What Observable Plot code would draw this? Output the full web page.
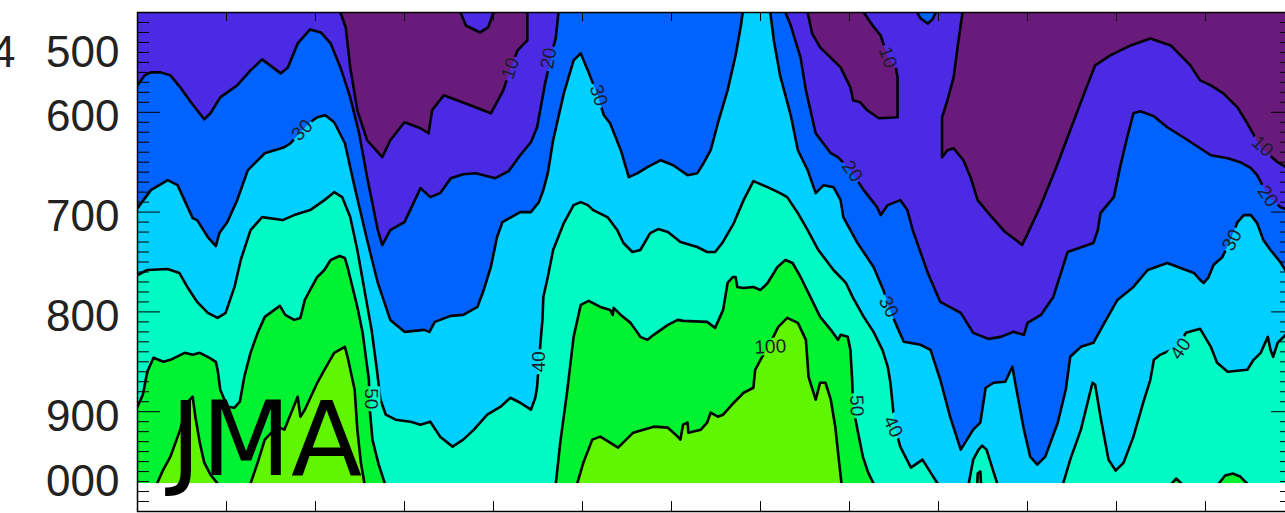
<!DOCTYPE html>
<html><head><meta charset="utf-8">
<script src="https://cdn.jsdelivr.net/npm/d3@7"></script>
<script src="https://cdn.jsdelivr.net/npm/@observablehq/plot@0.6"></script>
<style>html,body{margin:0;padding:0;overflow:hidden;background:#fff}</style>
</head><body><div id="chart"></div>
<script>
// ---- data (x: time-axis units, p: pressure hPa) ----
const levels = [10, 20, 30, 40, 50, 100];
const bandColors = ["#691b7b", "#4a2ae2", "#0062ff", "#00d0ff", "#00fac4", "#00f230", "#60f600"];
const pressureTicks = [500, 600, 700, 800, 900, 1000];
const pressureTickLabels = ["500", "600", "700", "800", "900", "000"];
const xTicks = [0,1,2,3,4,5,6,7,8,9,10,11,12,13];
const xDomain = [0, 13];
const yDomain = [500, 1000];
const surfaceP = 972;
const panelName = "JMA";

// regions where value < 10
const lt10 = [
 [[2.28,480],[2.28,500],[2.34,515],[2.39,555],[2.47,598],[2.58,628],[2.75,645],[2.84,628],[3.00,610],[3.18,616],[3.27,621],[3.31,598],[3.44,583],[3.71,592],[3.97,601],[4.11,578],[4.19,556],[4.27,538],[4.38,528],[4.38,500],[4.39,480],[4.00,480],[4.00,500],[3.94,515],[3.85,520],[3.69,513],[3.63,500],[3.63,480]],
 [[7.52,480],[7.53,500],[7.58,521],[7.67,535],[7.82,548],[7.90,555],[8.01,575],[8.04,588],[8.12,590],[8.20,598],[8.33,606],[8.54,605],[8.54,565],[8.52,555],[8.43,545],[8.35,523],[8.26,513],[8.16,500],[8.15,480]],
 [[9.22,480],[9.27,500],[9.22,531],[9.17,565],[9.10,588],[9.04,605],[9.04,645],[9.10,638],[9.17,636],[9.28,648],[9.36,665],[9.44,688],[9.58,703],[9.75,720],[9.87,728],[9.94,733],[10.01,720],[10.15,693],[10.31,658],[10.48,618],[10.65,578],[10.76,553],[10.93,543],[11.16,533],[11.38,526],[11.61,533],[11.83,553],[11.94,568],[12.06,573],[12.20,581],[12.36,595],[12.47,611],[12.62,635],[12.81,650],[13.00,660],[13.2,660],[13.2,480]]
];
// regions where value < 20
const lt20 = [
 [[-0.2,480],[-0.2,573],[0,573],[0.08,563],[0.15,560],[0.26,560],[0.37,563],[0.48,575],[0.60,590],[0.75,607],[0.82,601],[0.93,585],[1.12,573],[1.27,558],[1.40,547],[1.49,553],[1.61,561],[1.69,555],[1.80,531],[1.94,517],[2.06,520],[2.17,531],[2.28,555],[2.39,585],[2.49,621],[2.58,665],[2.70,718],[2.75,733],[2.84,718],[3.00,710],[3.18,676],[3.29,685],[3.40,681],[3.52,666],[3.66,662],[3.80,661],[4.02,666],[4.17,659],[4.30,643],[4.42,630],[4.49,615],[4.58,571],[4.65,543],[4.70,525],[4.73,500],[4.73,480]],
 [[7.27,480],[7.28,500],[7.34,513],[7.39,528],[7.45,545],[7.51,578],[7.62,621],[7.79,641],[7.87,645],[8.01,658],[8.16,678],[8.31,695],[8.35,703],[8.43,693],[8.57,688],[8.65,698],[8.71,718],[8.88,761],[9.02,790],[9.25,801],[9.39,821],[9.56,827],[9.70,825],[9.84,820],[9.96,823],[10.00,811],[10.15,803],[10.29,785],[10.45,740],[10.74,731],[10.79,718],[10.82,701],[10.97,685],[11.04,655],[11.12,625],[11.19,601],[11.27,599],[11.42,604],[11.57,615],[11.75,625],[11.94,636],[12.06,643],[12.25,646],[12.39,650],[12.51,656],[12.58,663],[12.70,683],[12.84,695],[13.00,700],[13.2,700],[13.2,480],[8.98,480],[8.97,500],[8.93,507],[8.88,511],[8.80,506],[8.76,500],[8.75,480]]
];
// regions where value < 30
const lt30 = [
 [[-0.2,480],[-0.2,696],[0,696],[0.15,678],[0.34,668],[0.45,673],[0.62,706],[0.67,708],[0.79,725],[0.88,734],[0.92,721],[1.01,710],[1.12,688],[1.24,658],[1.43,641],[1.65,635],[1.72,631],[1.83,620],[1.94,610],[2.02,605],[2.11,603],[2.21,610],[2.33,631],[2.44,675],[2.58,728],[2.70,771],[2.84,808],[3.00,820],[3.22,818],[3.28,820],[3.34,810],[3.52,804],[3.66,803],[3.82,795],[3.89,778],[3.97,755],[4.04,725],[4.10,710],[4.30,700],[4.42,700],[4.51,690],[4.56,678],[4.61,661],[4.67,628],[4.79,581],[4.90,548],[4.98,541],[5.06,558],[5.17,583],[5.24,603],[5.31,611],[5.43,638],[5.52,665],[5.62,661],[5.73,655],[5.88,648],[6.02,653],[6.18,663],[6.29,661],[6.36,651],[6.44,638],[6.53,608],[6.63,578],[6.72,543],[6.78,513],[6.80,500],[6.80,480]],
 [[7.11,480],[7.11,500],[7.15,528],[7.22,563],[7.34,603],[7.42,638],[7.53,658],[7.62,681],[7.71,673],[7.82,675],[7.90,688],[7.93,705],[8.09,731],[8.27,755],[8.38,778],[8.44,795],[8.54,816],[8.61,830],[8.80,833],[8.91,838],[9.02,868],[9.13,905],[9.25,938],[9.39,918],[9.47,911],[9.53,876],[9.62,871],[9.75,870],[9.83,855],[9.87,875],[9.96,918],[10.03,945],[10.11,953],[10.20,945],[10.34,911],[10.43,878],[10.48,845],[10.60,835],[10.74,831],[10.82,818],[11.01,788],[11.19,775],[11.35,758],[11.57,751],[11.87,761],[11.94,768],[11.98,771],[12.03,766],[12.09,753],[12.19,745],[12.28,728],[12.36,710],[12.43,703],[12.51,703],[12.58,711],[12.65,728],[12.73,738],[12.84,750],[13.00,773],[13.2,773],[13.2,480]]
];
// regions where value < 40
const lt40 = [
 [[-0.2,480],[-0.2,763],[0,763],[0.11,758],[0.34,757],[0.47,761],[0.56,775],[0.67,790],[0.79,801],[0.90,806],[0.99,801],[1.09,775],[1.16,748],[1.27,718],[1.40,705],[1.63,708],[1.76,703],[1.94,698],[2.10,688],[2.21,680],[2.30,685],[2.39,705],[2.47,738],[2.55,778],[2.63,818],[2.69,858],[2.73,888],[2.79,903],[2.90,908],[3.07,910],[3.18,913],[3.29,910],[3.40,925],[3.54,935],[3.66,928],[3.78,918],[3.93,903],[4.08,895],[4.19,886],[4.30,891],[4.42,898],[4.47,886],[4.49,875],[4.51,851],[4.53,828],[4.55,808],[4.56,785],[4.61,765],[4.67,738],[4.79,711],[4.90,693],[4.98,690],[5.06,693],[5.12,698],[5.28,705],[5.39,718],[5.46,731],[5.56,740],[5.65,738],[5.76,721],[5.85,717],[5.96,720],[6.10,730],[6.29,735],[6.40,740],[6.49,740],[6.57,731],[6.70,711],[6.81,688],[6.92,669],[7.08,675],[7.22,681],[7.30,685],[7.42,701],[7.53,718],[7.65,738],[7.82,758],[7.96,771],[8.04,786],[8.16,805],[8.27,820],[8.37,838],[8.43,855],[8.46,871],[8.49,898],[8.51,915],[8.57,935],[8.69,956],[8.82,948],[8.94,965],[8.99,972],[9.00,990],[9.33,990],[9.34,972],[9.39,948],[9.45,938],[9.49,934],[9.54,938],[9.61,958],[9.66,972],[9.67,990],[10.39,990],[10.40,972],[10.48,948],[10.60,918],[10.73,871],[10.76,873],[10.82,905],[10.91,948],[10.99,959],[11.08,951],[11.19,925],[11.30,891],[11.38,868],[11.42,848],[11.49,843],[11.69,835],[11.78,821],[11.94,817],[11.98,823],[12.06,835],[12.13,851],[12.25,860],[12.47,858],[12.54,848],[12.62,841],[12.70,825],[12.73,838],[12.76,845],[12.81,831],[12.90,823],[13.00,821],[13.2,821],[13.2,480]]
];
// regions where value < 50
const lt50 = [
 [[-0.2,480],[-0.2,895],[0,895],[0.06,883],[0.11,860],[0.18,846],[0.29,850],[0.37,848],[0.53,841],[0.62,843],[0.70,841],[0.81,846],[0.88,850],[0.90,858],[0.93,878],[1.01,895],[1.09,896],[1.15,890],[1.20,865],[1.27,841],[1.35,821],[1.43,805],[1.60,794],[1.66,803],[1.76,808],[1.83,806],[1.88,788],[1.94,778],[2.02,765],[2.10,758],[2.17,748],[2.27,744],[2.33,746],[2.36,755],[2.47,795],[2.53,821],[2.57,848],[2.60,868],[2.61,898],[2.64,928],[2.71,953],[2.78,972],[2.79,990],[4.70,990],[4.70,972],[4.75,931],[4.83,878],[4.90,825],[4.98,793],[5.07,789],[5.20,795],[5.31,798],[5.34,803],[5.35,796],[5.43,803],[5.54,811],[5.65,825],[5.73,828],[5.80,823],[5.96,813],[6.07,808],[6.13,809],[6.40,810],[6.49,816],[6.58,798],[6.63,771],[6.69,765],[6.72,765],[6.74,775],[6.81,776],[6.92,775],[7.00,778],[7.08,771],[7.19,755],[7.28,748],[7.36,751],[7.45,765],[7.56,785],[7.67,805],[7.79,818],[7.87,828],[7.90,823],[7.98,825],[8.01,838],[8.03,868],[8.04,895],[8.09,918],[8.15,945],[8.21,961],[8.27,972],[8.28,990],[9.43,990],[9.44,962],[9.47,960],[9.49,990],[11.61,990],[11.62,972],[11.67,967],[11.73,972],[11.74,990],[12.13,990],[12.15,972],[12.22,964],[12.31,962],[12.39,965],[12.47,972],[12.48,990],[13.2,990],[13.2,480]]
];
// regions where value < 100
const lt100 = [
 [[-0.2,480],[-0.2,990],[0.21,990],[0.22,972],[0.29,958],[0.37,945],[0.48,918],[0.56,891],[0.62,885],[0.65,905],[0.70,931],[0.75,951],[0.82,963],[0.90,972],[0.91,990],[1.26,990],[1.27,972],[1.35,951],[1.43,928],[1.57,915],[1.65,918],[1.80,885],[1.83,905],[1.88,898],[2.02,871],[2.10,858],[2.21,841],[2.33,835],[2.36,845],[2.44,878],[2.47,918],[2.51,951],[2.55,972],[2.56,990],[4.93,990],[4.94,972],[5.01,951],[5.11,928],[5.20,925],[5.31,931],[5.40,936],[5.57,921],[5.80,915],[5.96,916],[6.07,925],[6.10,928],[6.13,913],[6.18,911],[6.19,921],[6.33,918],[6.40,911],[6.44,901],[6.52,905],[6.58,903],[6.70,891],[6.81,881],[6.92,876],[6.94,858],[7.00,848],[7.11,831],[7.20,815],[7.30,806],[7.42,811],[7.51,828],[7.54,865],[7.62,888],[7.67,871],[7.73,871],[7.79,888],[7.84,915],[7.88,948],[7.91,972],[7.92,990],[13.2,990],[13.2,480]]
];

const contourLabels = [
 {t:"10", x:4.19, p:556, a:-72},
 {t:"20", x:4.62, p:546, a:-80},
 {t:"30", x:5.18, p:583, a:72},
 {t:"30", x:1.85, p:618, a:-45},
 {t:"10", x:8.43, p:545, a:70},
 {t:"20", x:8.03, p:659, a:55},
 {t:"30", x:8.44, p:795, a:62},
 {t:"40", x:8.49, p:915, a:65},
 {t:"50", x:8.08, p:894, a:88},
 {t:"100", x:7.11, p:835, a:-3},
 {t:"40", x:4.51, p:850, a:-90},
 {t:"50", x:2.63, p:887, a:90},
 {t:"10", x:12.64, p:634, a:42},
 {t:"20", x:12.70, p:684, a:55},
 {t:"30", x:12.30, p:728, a:-62},
 {t:"40", x:11.72, p:837, a:-56}
];

// ---- layout ----
const W = 1310, H = 513;
const M = {left: 137, right: 16, top: 12, bottom: 2};
const FW = W - M.left - M.right;
const FH = H - M.top - M.bottom;
const font = "'Liberation Sans', Arial, Helvetica, sans-serif";
const lineWidth = 2.6, labelSize = 19;

const rows = (regions, tag) => regions.flatMap((pts, i) => pts.map(([x, p]) => ({x, p, id: tag + i})));
const layers = [[lt100, bandColors[5]], [lt50, bandColors[4]], [lt40, bandColors[3]], [lt30, bandColors[2]], [lt20, bandColors[1]], [lt10, bandColors[0]]];
const minorP = d3.range(yDomain[0], yDomain[1] + 1, 10).filter(v => !pressureTicks.includes(v));

const plot = Plot.plot({
  width: W, height: H,
  marginLeft: M.left, marginRight: M.right, marginTop: M.top, marginBottom: M.bottom,
  x: {domain: xDomain, axis: null},
  y: {domain: yDomain, reverse: true, axis: null},
  style: {background: "white", overflow: "visible", maxWidth: "none"},
  marks: [
    Plot.frame({fill: bandColors[6], stroke: null}),
    ...layers.map(([r, c], k) => Plot.line(rows(r, "f" + k), {x: "x", y: "p", z: "id", fill: c, stroke: null, clip: true})),
    ...layers.map(([r], k) => Plot.line(rows(r, "s" + k), {x: "x", y: "p", z: "id", fill: "none", stroke: "#000", strokeWidth: lineWidth, clip: true})),
    Plot.text(contourLabels, {x: "x", y: "p", text: "t", rotate: "a", fontSize: labelSize, fontFamily: font, fill: "#1c1c2c"}),
    Plot.rect([surfaceP], {x1: xDomain[0], x2: xDomain[1], y1: d => d, y2: yDomain[1], fill: "white"}),
    Plot.ruleY(minorP, {y: d => d, stroke: "#000", strokeWidth: 1, insetRight: FW - 12}),
    Plot.ruleY(pressureTicks, {y: d => d, stroke: "#000", strokeWidth: 1, insetRight: FW - 23}),
    Plot.ruleY(minorP, {y: d => d, stroke: "#000", strokeWidth: 1, insetLeft: FW - 14}),
    Plot.ruleY(pressureTicks, {y: d => d, stroke: "#000", strokeWidth: 1, insetLeft: FW - 23}),
    Plot.ruleX(xTicks, {x: d => d, stroke: "#000", strokeWidth: 1, insetTop: FH - 10}),
    Plot.ruleX(xTicks, {x: d => d, stroke: "#000", strokeWidth: 1, insetBottom: FH - 9}),
    Plot.frame({stroke: "#000", strokeWidth: 1.5}),
    Plot.text(pressureTicks.slice(1, 5), {y: d => d, text: (d, i) => pressureTickLabels[i + 1], frameAnchor: "left", dx: -18, dy: 5, textAnchor: "end", fontSize: 44, fontFamily: font, fill: "#222"}),
    Plot.text([pressureTickLabels[0]], {frameAnchor: "top-left", dx: -18, dy: 23, textAnchor: "end", fontSize: 44, fontFamily: font, fill: "#222"}),
    Plot.text([pressureTickLabels[5]], {frameAnchor: "bottom-left", dx: -18, dy: -16, textAnchor: "end", fontSize: 44, fontFamily: font, fill: "#222"}),
    Plot.text(["4"], {frameAnchor: "top-left", dx: -122, dy: 23, textAnchor: "end", fontSize: 44, fontFamily: font, fill: "#222"}),
    Plot.text([panelName], {frameAnchor: "bottom-left", dx: 33, dy: -37, textAnchor: "start", lineAnchor: "bottom", fontSize: 104, fontFamily: "'DejaVu Sans', sans-serif", fill: "#000"})
  ]
});
document.getElementById("chart").appendChild(plot);

// break the contour lines where their labels sit: an even-odd clip path with holes
// built from the rendered label boxes (in the svg's own coordinates)
(function () {
  try {
    const ns = "http://www.w3.org/2000/svg";
    const lineGroups = Array.from(plot.querySelectorAll("g")).filter(g => g.getAttribute("stroke-width") === String(lineWidth) && g.getAttribute("fill") === "none");
    const labelGroup = Array.from(plot.querySelectorAll("g")).find(g => g.getAttribute("font-size") === String(labelSize));
    if (!lineGroups.length || !labelGroup) return;
    let d = `M-50,-50H${W + 50}V${H + 50}H-50Z`;
    let holes = 0;
    labelGroup.querySelectorAll("text").forEach(t => {
      const b = t.getBBox();
      const m = t.getCTM();
      if (!m || !(b.width > 0) || !(b.width < 200)) return;
      const padX = 2, padY = 2;
      const corners = [[b.x - padX, b.y + padY], [b.x + b.width + padX, b.y + padY],
                       [b.x + b.width + padX, b.y + b.height - padY], [b.x - padX, b.y + b.height - padY]]
        .map(([x, y]) => [m.a * x + m.c * y + m.e, m.b * x + m.d * y + m.f]);
      if (corners.some(c => !isFinite(c[0]) || !isFinite(c[1]))) return;
      d += "M" + corners.map(c => c[0].toFixed(2) + "," + c[1].toFixed(2)).join("L") + "Z";
      holes++;
    });
    if (!holes) return;
    const defs = document.createElementNS(ns, "defs");
    const cp = document.createElementNS(ns, "clipPath");
    cp.setAttribute("id", "label-gaps");
    cp.setAttribute("clipPathUnits", "userSpaceOnUse");
    const path = document.createElementNS(ns, "path");
    path.setAttribute("d", d);
    path.setAttribute("clip-rule", "evenodd");
    cp.appendChild(path);
    defs.appendChild(cp);
    plot.appendChild(defs);
    lineGroups.forEach(g => {
      const wrap = document.createElementNS(ns, "g");
      wrap.setAttribute("clip-path", "url(#label-gaps)");
      g.parentNode.insertBefore(wrap, g);
      wrap.appendChild(g);
    });
  } catch (e) { /* keep unbroken lines if anything fails */ }
})();
</script>
</body></html>
